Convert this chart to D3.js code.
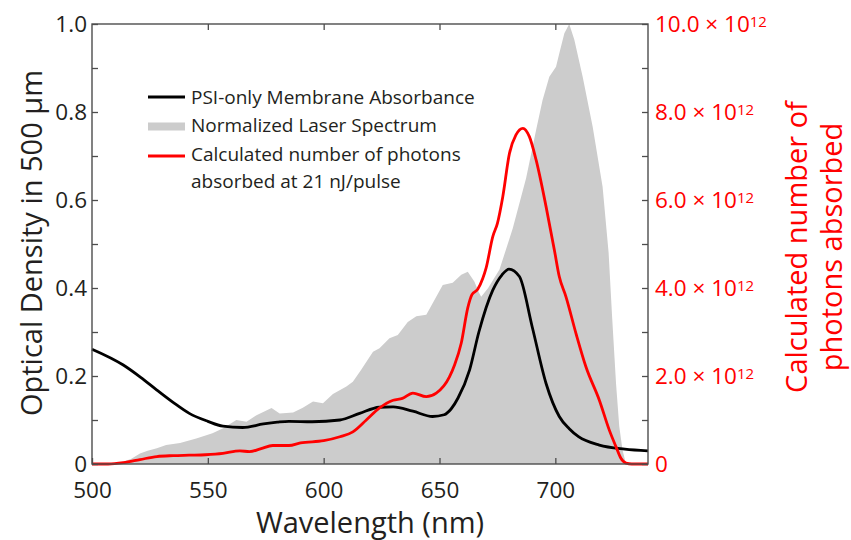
<!DOCTYPE html>
<html>
<head>
<meta charset="utf-8">
<script src="https://cdn.jsdelivr.net/npm/d3@7"></script>
<style>
  html, body { margin: 0; padding: 0; background: #fff; }
  text { font-family: "Open Sans", "Noto Sans", sans-serif; }
</style>
</head>
<body>
<svg id="chart" width="851" height="540"></svg>
<script>
// ---------- data ----------
const absWavelength = [500, 513.5, 521, 528, 535, 542, 550, 556.5, 565, 574, 580, 585, 595, 607, 615.5, 624, 630, 638.5, 647, 652, 655, 658, 663, 667, 673, 677, 680, 684.5, 690, 696, 701.7, 706, 710, 719, 730, 740];
const absorbance    = [0.261, 0.225, 0.197, 0.168, 0.140, 0.115, 0.097, 0.086, 0.083, 0.091, 0.095, 0.097, 0.096, 0.100, 0.115, 0.129, 0.130, 0.120, 0.108, 0.112, 0.125, 0.150, 0.214, 0.300, 0.395, 0.430, 0.443, 0.426, 0.312, 0.183, 0.108, 0.080, 0.062, 0.043, 0.034, 0.030];

const laserWavelength = [500, 507, 513.5, 517, 520.7, 524, 528, 532, 538, 545, 552, 556.6, 562.3, 566.7, 571, 577.5, 581, 586.8, 591, 595.4, 599.7, 604, 609.8, 612.6, 616.2, 621.3, 624.1, 628.4, 632, 636.3, 640, 644.3, 648.6, 651.4, 655.7, 659.4, 662.2, 665.1, 667, 668, 671, 675.9, 681.6, 687.4, 691.7, 694.5, 697.4, 700.3, 701.7, 703.9, 706, 708.2, 711.8, 716.1, 720.4, 723, 724.5, 726.2, 727.6, 729, 730.5, 740];
const laserSpectrum   = [0, 0, 0.005, 0.012, 0.024, 0.030, 0.036, 0.043, 0.048, 0.058, 0.070, 0.081, 0.100, 0.096, 0.111, 0.127, 0.115, 0.117, 0.128, 0.142, 0.138, 0.159, 0.176, 0.187, 0.214, 0.255, 0.263, 0.286, 0.293, 0.323, 0.336, 0.339, 0.380, 0.407, 0.412, 0.430, 0.437, 0.414, 0.390, 0.380, 0.400, 0.442, 0.535, 0.650, 0.759, 0.827, 0.880, 0.903, 0.933, 0.979, 1.000, 0.964, 0.880, 0.767, 0.630, 0.480, 0.335, 0.183, 0.085, 0.032, 0, 0];

// photons absorbed, in units of 10^12
const photonWavelength = [500, 507, 513.5, 520.7, 528, 535, 542, 549, 556.5, 563.8, 568, 573, 578, 585, 590, 600, 607, 612.6, 618.4, 624, 630, 634, 638.5, 644.3, 648.6, 654.3, 656.5, 659.4, 662.2, 664, 666.5, 668.7, 670.1, 673, 675, 677.3, 680.2, 683, 686, 688.8, 691.7, 696, 699.6, 701.7, 704.6, 708.9, 713.2, 719, 723.3, 726.2, 728.3, 730.5, 733, 740];
const photonsAbsorbed  = [0, 0, 0.03, 0.10, 0.17, 0.19, 0.20, 0.21, 0.24, 0.30, 0.28, 0.35, 0.42, 0.42, 0.48, 0.53, 0.62, 0.73, 1.00, 1.27, 1.45, 1.49, 1.61, 1.53, 1.61, 1.98, 2.25, 2.75, 3.55, 3.85, 3.97, 4.22, 4.45, 5.17, 5.47, 6.07, 7.06, 7.48, 7.63, 7.44, 6.91, 5.85, 4.86, 4.26, 3.80, 2.97, 2.21, 1.45, 0.77, 0.39, 0.13, 0.02, 0, 0];

const xTicks = [500, 550, 600, 650, 700];
const leftTicks = [0, 0.1, 0.2, 0.3, 0.4, 0.5, 0.6, 0.7, 0.8, 0.9, 1.0];
const leftTickLabels = ["0", "", "0.2", "", "0.4", "", "0.6", "", "0.8", "", "1.0"];
const rightTicks = [0, 1, 2, 3, 4, 5, 6, 7, 8, 9, 10];
const rightTickMantissa = ["0", "", "2.0", "", "4.0", "", "6.0", "", "8.0", "", "10.0"];
const rightExponent = "12";

const legendLabels = ["PSI-only Membrane Absorbance", "Normalized Laser Spectrum", "Calculated number of photons", "absorbed at 21 nJ/pulse"];
const xTitle = "Wavelength (nm)";
const yTitle = "Optical Density in 500 µm";
const y2Title = ["Calculated number of", "photons absorbed"];

// ---------- layout ----------
const L = 92, R = 648, T = 24, B = 464;
const RED = "#ff0000", GREY = "#cccccc", FRAME = "#4d4d4d", TXT = "#231f20";

const svg = d3.select("#chart");
const x = d3.scaleLinear().domain([500, 740]).range([L, R]);
const y = d3.scaleLinear().domain([0, 1]).range([B, T]);
const y2 = d3.scaleLinear().domain([0, 10]).range([B, T]);

// laser spectrum area
const laser = laserWavelength.map((w, i) => [w, laserSpectrum[i]]);
svg.append("path")
  .datum(laser)
  .attr("fill", GREY)
  .attr("d", d3.area().x(d => x(d[0])).y0(y(0)).y1(d => y(d[1])).curve(d3.curveLinear));

// absorbance line
const absData = absWavelength.map((w, i) => [w, absorbance[i]]);
svg.append("path")
  .datum(absData)
  .attr("fill", "none").attr("stroke", "#000").attr("stroke-width", 2.8)
  .attr("d", d3.line().x(d => x(d[0])).y(d => y(d[1])).curve(d3.curveMonotoneX));

// photons line
const phData = photonWavelength.map((w, i) => [w, photonsAbsorbed[i]]);
svg.append("path")
  .datum(phData)
  .attr("fill", "none").attr("stroke", RED).attr("stroke-width", 2.8)
  .attr("d", d3.line().x(d => x(d[0])).y(d => y2(d[1])).curve(d3.curveMonotoneX));

// ---------- axes ----------
function styleAxis(g) {
  g.select(".domain").remove();
  g.selectAll(".tick line").attr("stroke", FRAME).attr("stroke-width", 1.3);
  g.selectAll("text").attr("font-family", "Open Sans, Noto Sans, sans-serif");
}

const gx = svg.append("g").attr("transform", `translate(0,${B})`)
  .call(d3.axisBottom(x).tickValues(xTicks).tickSize(-6).tickPadding(18).tickFormat(d3.format("d")));
styleAxis(gx);
gx.selectAll("text").attr("font-size", 22.5).attr("fill", TXT);

const gxt = svg.append("g").attr("transform", `translate(0,${T})`)
  .call(d3.axisTop(x).tickValues(xTicks.slice(1)).tickSize(-6).tickFormat(""));
styleAxis(gxt);

const gy = svg.append("g").attr("transform", `translate(${L},0)`)
  .call(d3.axisLeft(y).tickValues(leftTicks).tickSize(-6).tickPadding(5).tickFormat((d, i) => leftTickLabels[i]));
styleAxis(gy);
gy.selectAll("text").attr("font-size", 22.5).attr("fill", TXT);

const gy2 = svg.append("g").attr("transform", `translate(${R},0)`)
  .call(d3.axisRight(y2).tickValues(rightTicks).tickSize(-6).tickPadding(7).tickFormat(""));
styleAxis(gy2);
gy2.selectAll(".tick text").each(function(d, i) {
  const t = d3.select(this).attr("font-size", 22.5).attr("fill", RED);
  const m = rightTickMantissa[i];
  if (!m) return;
  if (m === "0") { t.text("0"); return; }
  t.append("tspan").text(m + " \u00D7 10");
  t.append("tspan").attr("font-size", 15).attr("dy", "-0.33em").text(rightExponent);
});

// frame
svg.append("rect")
  .attr("x", L).attr("y", T).attr("width", R - L).attr("height", B - T)
  .attr("fill", "none").attr("stroke", FRAME).attr("stroke-width", 1.4);

// ---------- titles ----------
svg.append("text")
  .attr("x", (L + R) / 2).attr("y", 533)
  .attr("text-anchor", "middle").attr("font-size", 29).attr("fill", TXT)
  .text(xTitle);

svg.append("text")
  .attr("transform", "translate(42,243) rotate(-90)")
  .attr("text-anchor", "middle").attr("font-size", 29).attr("fill", TXT)
  .text(yTitle);

y2Title.forEach((s, i) => {
  svg.append("text")
    .attr("transform", `translate(${807 + i * 35},247) rotate(-90)`)
    .attr("text-anchor", "middle").attr("font-size", 29).attr("fill", RED)
    .text(s);
});

// ---------- legend ----------
const leg = svg.append("g");
const legX0 = 148, legX1 = 185, legTX = 191;
leg.append("line").attr("x1", legX0).attr("x2", legX1).attr("y1", 97).attr("y2", 97)
  .attr("stroke", "#000").attr("stroke-width", 2.8);
leg.append("line").attr("x1", legX0).attr("x2", legX1).attr("y1", 126.5).attr("y2", 126.5)
  .attr("stroke", GREY).attr("stroke-width", 8);
leg.append("line").attr("x1", legX0).attr("x2", legX1).attr("y1", 156).attr("y2", 156)
  .attr("stroke", RED).attr("stroke-width", 2.8);
const legY = [103.5, 132, 161, 187.5];
legendLabels.forEach((s, i) => {
  leg.append("text").attr("x", legTX).attr("y", legY[i])
    .attr("font-size", 19).attr("fill", TXT).text(s);
});
</script>
</body>
</html>
